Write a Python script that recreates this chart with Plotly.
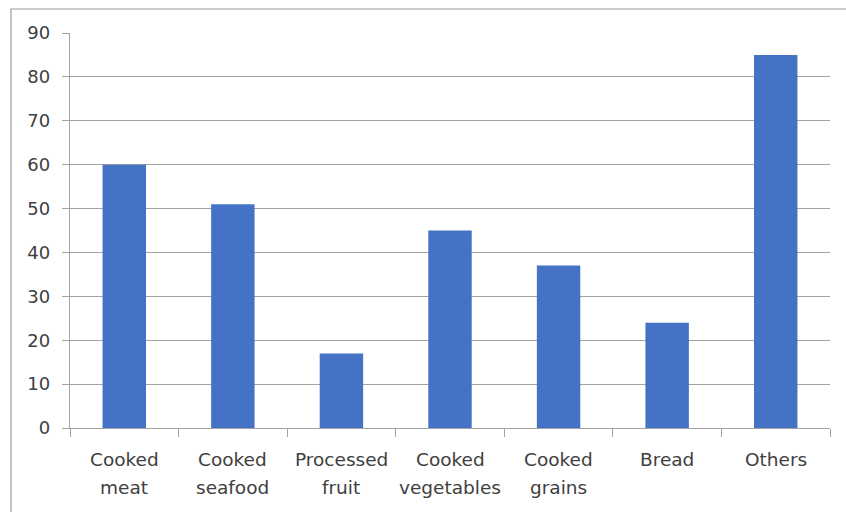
import plotly.graph_objects as go

# Chart data
categories = ["Cooked meat", "Cooked seafood", "Processed fruit", "Cooked vegetables",
              "Cooked grains", "Bread", "Others"]
values = [60, 51, 17, 45, 37, 24, 85]
label_line1 = ["Cooked", "Cooked", "Processed", "Cooked", "Cooked", "Bread", "Others"]
label_line2 = ["meat", "seafood", "fruit", "vegetables", "grains", "", ""]
y_ticks = [0, 10, 20, 30, 40, 50, 60, 70, 80, 90]

W, H = 846, 512
L, R, T, B = 70, 16, 33, 84
plot_w, plot_h = W - L - R, H - T - B

bar_color = "#4472C4"
grid_color = "#a3a3a3"
text_color = "#404040"
font_family = "DejaVu Sans"

fig = go.Figure(go.Bar(x=categories, y=values, marker=dict(color=bar_color, line=dict(width=0))))

# Two-line category labels, placed under each category
annotations = []
for cat, l1, l2 in zip(categories, label_line1, label_line2):
    annotations.append(dict(x=cat, xref="x", y=0, yref="paper", text=l1, showarrow=False,
                            yanchor="middle", yshift=-31,
                            font=dict(family=font_family, size=18.5, color=text_color)))
    if l2:
        annotations.append(dict(x=cat, xref="x", y=0, yref="paper", text=l2, showarrow=False,
                                yanchor="middle", yshift=-59,
                                font=dict(family=font_family, size=18.5, color=text_color)))

# Outer chart border (left and top edges visible within the canvas)
border = dict(type="rect", xref="paper", yref="paper",
              x0=(11 - L) / plot_w, x1=(W + 10 - L) / plot_w,
              y0=-(B + 10) / plot_h, y1=(plot_h + T - 9) / plot_h,
              line=dict(color="#9a9a9a", width=1.2), fillcolor="rgba(0,0,0,0)", layer="below")

fig.update_layout(
    width=W, height=H,
    margin=dict(l=L, r=R, t=T, b=B, pad=0),
    paper_bgcolor="white", plot_bgcolor="white",
    bargap=0.6,
    showlegend=False,
    annotations=annotations,
    shapes=[border],
    xaxis=dict(
        type="category", showgrid=False, showline=True, linecolor=grid_color, linewidth=1.4,
        ticks="outside", ticklen=8, tickcolor=grid_color, tickwidth=1.4,
        tickson="boundaries", showticklabels=False, zeroline=False,
    ),
    yaxis=dict(
        range=[0, 90], tickvals=y_ticks, showgrid=True, gridcolor=grid_color, gridwidth=1.4,
        showline=True, linecolor=grid_color, linewidth=1.4,
        ticks="outside", ticklen=7, tickcolor=grid_color, tickwidth=1.4,
        ticklabelstandoff=8, zeroline=False,
        tickfont=dict(family=font_family, size=18, color=text_color),
    ),
)

fig.write_html("out.html")
